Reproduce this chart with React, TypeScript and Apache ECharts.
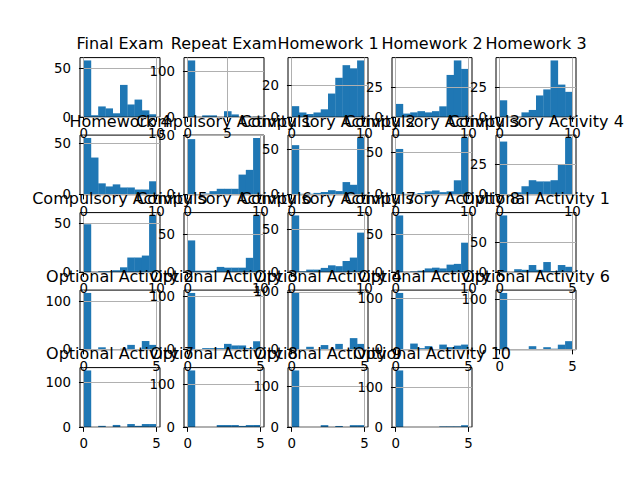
import React, { useEffect, useRef } from 'react';
import * as echarts from 'echarts';

// subplot titles, in grid order (5 per row)
const titles = [
  'Final Exam', 'Repeat Exam', 'Homework 1', 'Homework 2', 'Homework 3',
  'Homework 4', 'Compulsory Activity 1', 'Compulsory Activity 2', 'Compulsory Activity 3', 'Compulsory Activity 4',
  'Compulsory Activity 5', 'Compulsory Activity 6', 'Compulsory Activity 7', 'Compulsory Activity 8', 'Optional Activity 1',
  'Optional Activity 2', 'Optional Activity 3', 'Optional Activity 4', 'Optional Activity 5', 'Optional Activity 6',
  'Optional Activity 7', 'Optional Activity 8', 'Optional Activity 9', 'Optional Activity 10',
];

// histogram counts, 10 bins each
const finalExam = [58, 2, 11, 9, 4, 33, 13, 18, 7, 3];
const repeatExam = [123, 0, 4, 4, 0, 13, 6, 0, 0, 1];
const homework1 = [7, 3, 2, 3, 5, 15, 25, 33, 31, 36];
const homework2 = [11, 3, 4, 5, 4, 5, 9, 35, 47, 40];
const homework3 = [14, 0, 0, 4, 6, 18, 23, 47, 27, 21];
const homework4 = [55, 36, 11, 8, 10, 7, 7, 5, 5, 13];
const compulsory1 = [47, 0, 1, 3, 5, 5, 5, 17, 21, 48];
const compulsory2 = [55, 1, 1, 2, 3, 5, 4, 14, 11, 63];
const compulsory3 = [54, 1, 1, 2, 4, 5, 3, 4, 17, 67];
const compulsory4 = [44, 0, 2, 7, 12, 11, 11, 12, 25, 47];
const compulsory5 = [49, 0, 1, 1, 2, 5, 15, 15, 17, 58];
const compulsory6 = [42, 2, 2, 2, 7, 6, 6, 6, 19, 75];
const compulsory7 = [66, 1, 3, 3, 5, 8, 7, 13, 17, 46];
const compulsory8 = [75, 0, 1, 2, 5, 6, 5, 10, 11, 39];
const optional1 = [95, 0, 5, 4, 12, 4, 17, 2, 12, 9];
const optional2 = [118, 0, 5, 1, 1, 2, 10, 1, 18, 10];
const optional3 = [107, 0, 3, 3, 3, 11, 8, 8, 3, 16];
const optional4 = [98, 1, 5, 1, 8, 1, 10, 1, 20, 10];
const optional5 = [111, 0, 12, 3, 7, 1, 10, 5, 8, 10];
const optional6 = [113, 1, 1, 1, 7, 1, 5, 2, 10, 17];
const optional7 = [126, 0, 3, 0, 5, 0, 7, 3, 7, 7];
const optional8 = [132, 0, 0, 0, 5, 5, 5, 3, 5, 5];
const optional9 = [138, 0, 0, 0, 5, 0, 3, 0, 5, 5];
const optional10 = [142, 0, 0, 0, 0, 0, 2, 2, 2, 5];

const allCounts = [
  finalExam, repeatExam, homework1, homework2, homework3,
  homework4, compulsory1, compulsory2, compulsory3, compulsory4,
  compulsory5, compulsory6, compulsory7, compulsory8, optional1,
  optional2, optional3, optional4, optional5, optional6,
  optional7, optional8, optional9, optional10,
];

// data range (min, max) of each column
const dataRanges = [
  [0, 10], [0, 9.1], [0, 10], [0, 10], [0, 10],
  [0, 10], [0, 10], [0, 10], [0, 10], [0, 10],
  [0, 10], [0, 10], [0, 10], [0, 10], [0, 5],
  [0, 5], [0, 5], [0, 5], [0, 5], [0, 5],
  [0, 5], [0, 5], [0, 5], [0, 5],
];

// tick labels
const xTicks = [
  [0, 10], [0, 5], [0, 10], [0, 10], [0, 10],
  [0, 10], [0, 10], [0, 10], [0, 10], [0, 10],
  [0, 10], [0, 10], [0, 10], [0, 10], [0, 5],
  [0, 5], [0, 5], [0, 5], [0, 5], [0, 5],
  [0, 5], [0, 5], [0, 5], [0, 5],
];
const yTicks = [
  [0, 50], [0, 100], [0, 20], [0, 25], [0, 25],
  [0, 50], [0, 50], [0, 50], [0, 50], [0, 25],
  [0, 50], [0, 50], [0, 50], [0, 50], [0, 50],
  [0, 100], [0, 100], [0, 100], [0, 100], [0, 100],
  [0, 100], [0, 100], [0, 100], [0, 100],
];

const FONT = 'DejaVu Sans';
const BAR = '#1f77b4';
const GRIDLINE = '#b0b0b0';

const App: React.FC = () => {
  const chartRef = useRef<HTMLDivElement>(null);

  useEffect(() => {
    const chart = echarts.init(chartRef.current!, null, { renderer: 'svg' });

    const left0 = 80;
    const top0 = 57.6;
    const w = 80;
    const h = 59.6;
    const dx = 104;
    const dy = 77.5;

    const grids: any[] = [];
    const xAxes: any[] = [];
    const yAxes: any[] = [];
    const series: any[] = [];
    const graphics: any[] = [];

    allCounts.forEach((counts, i) => {
      const col = i % 5;
      const row = Math.floor(i / 5);
      const left = left0 + col * dx;
      const top = top0 + row * dy;
      const [lo, hi] = dataRanges[i];
      const span = hi - lo;
      const binW = span / counts.length;

      grids.push({
        left, top, width: w, height: h,
        show: true, borderColor: '#000', borderWidth: 1, z: 3,
        containLabel: false,
      });

      const axisCommon = (ticks: number[]) => ({
        axisLine: { show: false },
        axisTick: { show: true, length: 4.67, lineStyle: { color: '#000', width: 1 }, customValues: ticks },
        axisLabel: {
          show: true, customValues: ticks,
          fontFamily: FONT, fontSize: 13.33, color: '#000',
          showMinLabel: true, showMaxLabel: true,
        },
        splitLine: { show: true, lineStyle: { color: GRIDLINE, width: 1 } },
        z: 3,
      });

      const xa: any = axisCommon(xTicks[i]);
      xa.axisLabel.margin = 10;
      xAxes.push({
        type: 'value', gridIndex: i,
        min: lo - 0.05 * span, max: hi + 0.05 * span,
        ...xa,
      });

      const ya: any = axisCommon(yTicks[i]);
      ya.axisLabel.margin = 9;
      yAxes.push({
        type: 'value', gridIndex: i,
        min: 0, max: 1.05 * Math.max(...counts),
        ...ya,
      });

      series.push({
        type: 'custom',
        xAxisIndex: i,
        yAxisIndex: i,
        z: 2,
        silent: true,
        encode: { x: [0, 1], y: 2 },
        data: counts.map((c, k) => [lo + k * binW, lo + (k + 1) * binW, c]),
        renderItem: (_params: any, api: any) => {
          const p0 = api.coord([api.value(0), api.value(2)]);
          const p1 = api.coord([api.value(1), 0]);
          return {
            type: 'rect',
            shape: { x: p0[0], y: p0[1], width: p1[0] - p0[0] + 0.3, height: p1[1] - p0[1] },
            style: { fill: BAR },
          };
        },
      });

      graphics.push({
        type: 'text',
        x: left + w / 2,
        y: top - 13.8,
        z: 10,
        style: {
          text: titles[i],
          font: `16px "${FONT}"`,
          fill: '#000',
          align: 'center',
          verticalAlign: 'middle',
        },
      });
    });

    chart.setOption({
      animation: false,
      backgroundColor: '#fff',
      grid: grids,
      xAxis: xAxes,
      yAxis: yAxes,
      series,
      graphic: graphics,
    });

    return () => {
      chart.dispose();
    };
  }, []);

  return (
    <div
      ref={chartRef}
      style={{ position: 'fixed', left: 0, top: 0, width: '640px', height: '480px', background: '#fff' }}
    />
  );
};

export default App;
